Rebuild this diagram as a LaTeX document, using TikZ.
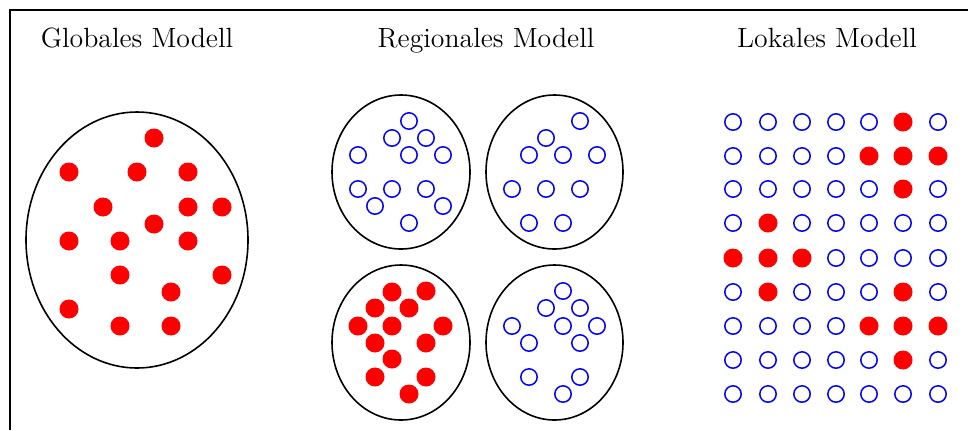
\documentclass[tikz,border=0pt]{standalone}
\usepackage{tikz}
\usepackage{xcolor}

\tikzset{
	redpt/.style={fill=red, draw=none},
	bluept/.style={draw=blue, line width=0.75pt, fill=none},
	huelle/.style={draw=black, line width=0.8pt},
	titel/.style={anchor=base, font=\fontsize{13.9}{16}\selectfont}
}

\begin{document}
\begin{tikzpicture}[x=0.5pt, y=-0.5pt]
					\useasboundingbox (0,0) rectangle (968,430);
					\draw[line width=0.7pt] (968,10) -- (10,10) -- (10,430);
					
					\node[titel] (tglobal) at (137,47) {Globales Modell};
					\node[titel] (tregional) at (486,47) {Regionales Modell};
					\node[titel] (tlokal) at (827,47) {Lokales Modell};
					
					% globales Modell
					\draw[huelle] (137,240) ellipse [x radius=55.5pt, y radius=64pt];
					\fill[redpt] (154,138) circle (4.75pt);
					\fill[redpt] (69,172) circle (4.75pt);
					\fill[redpt] (137,172) circle (4.75pt);
					\fill[redpt] (188,172) circle (4.75pt);
					\fill[redpt] (103,207) circle (4.75pt);
					\fill[redpt] (188,207) circle (4.75pt);
					\fill[redpt] (222,207) circle (4.75pt);
					\fill[redpt] (154,224) circle (4.75pt);
					\fill[redpt] (69,241) circle (4.75pt);
					\fill[redpt] (120,241) circle (4.75pt);
					\fill[redpt] (188,241) circle (4.75pt);
					\fill[redpt] (120,275) circle (4.75pt);
					\fill[redpt] (222,275) circle (4.75pt);
					\fill[redpt] (171,292) circle (4.75pt);
					\fill[redpt] (69,309) circle (4.75pt);
					\fill[redpt] (120,326) circle (4.75pt);
					\fill[redpt] (171,326) circle (4.75pt);
					
					% regionales Modell
					\draw[huelle] (401,172) ellipse [x radius=34.5pt, y radius=38.5pt];
					\draw[huelle] (554.5,172) ellipse [x radius=34.25pt, y radius=38.5pt];
					\draw[huelle] (401,342.5) ellipse [x radius=34.5pt, y radius=38.75pt];
					\draw[huelle] (554.5,342.5) ellipse [x radius=34.25pt, y radius=38.75pt];
					
					\draw[bluept] (409,121) circle (4.1pt) (392,138) circle (4.1pt) (426,138) circle (4.1pt);
					\draw[bluept] (358,155) circle (4.1pt) (409,155) circle (4.1pt) (443,155) circle (4.1pt);
					\draw[bluept] (358,189) circle (4.1pt) (392,189) circle (4.1pt) (426,189) circle (4.1pt);
					\draw[bluept] (375,206) circle (4.1pt) (443,206) circle (4.1pt) (409,223) circle (4.1pt);
					
					\draw[bluept] (580,121) circle (4.1pt) (546,138) circle (4.1pt);
					\draw[bluept] (529,155) circle (4.1pt) (563,155) circle (4.1pt) (597,155) circle (4.1pt);
					\draw[bluept] (512,189) circle (4.1pt) (546,189) circle (4.1pt) (580,189) circle (4.1pt);
					\draw[bluept] (529,223) circle (4.1pt) (563,223) circle (4.1pt);
					
					\fill[redpt] (392,292) circle (4.75pt);
					\fill[redpt] (426,291) circle (4.75pt);
					\fill[redpt] (375,308) circle (4.75pt);
					\fill[redpt] (409,308) circle (4.75pt);
					\fill[redpt] (358,326) circle (4.75pt);
					\fill[redpt] (392,326) circle (4.75pt);
					\fill[redpt] (443,326) circle (4.75pt);
					\fill[redpt] (375,343) circle (4.75pt);
					\fill[redpt] (426,343) circle (4.75pt);
					\fill[redpt] (392,359) circle (4.75pt);
					\fill[redpt] (375,377) circle (4.75pt);
					\fill[redpt] (426,377) circle (4.75pt);
					\fill[redpt] (409,394) circle (4.75pt);
					
					\draw[bluept] (563,291) circle (4.1pt) (546,308) circle (4.1pt) (580,308) circle (4.1pt);
					\draw[bluept] (512,326) circle (4.1pt) (563,326) circle (4.1pt) (597,326) circle (4.1pt);
					\draw[bluept] (529,343) circle (4.1pt) (580,343) circle (4.1pt);
					\draw[bluept] (529,377) circle (4.1pt) (580,377) circle (4.1pt) (563,394) circle (4.1pt);
					
					% lokales Modell
					\draw[bluept] (733,122) circle (4.1pt) (768,122) circle (4.1pt) (802,122) circle (4.1pt) (836,122) circle (4.1pt) (869,122) circle (4.1pt) (938,122) circle (4.1pt);
					\fill[redpt] (903,122) circle (4.75pt);
					\draw[bluept] (733,156) circle (4.1pt) (768,156) circle (4.1pt) (802,156) circle (4.1pt) (836,156) circle (4.1pt);
					\fill[redpt] (869,156) circle (4.75pt) (903,156) circle (4.75pt) (938,156) circle (4.75pt);
					\draw[bluept] (733,189) circle (4.1pt) (768,189) circle (4.1pt) (802,189) circle (4.1pt) (836,189) circle (4.1pt) (869,189) circle (4.1pt) (938,189) circle (4.1pt);
					\fill[redpt] (903,189) circle (4.75pt);
					\draw[bluept] (733,223) circle (4.1pt) (802,223) circle (4.1pt) (836,223) circle (4.1pt) (869,223) circle (4.1pt) (903,223) circle (4.1pt) (938,223) circle (4.1pt);
					\fill[redpt] (768,223) circle (4.75pt);
					\fill[redpt] (733,258) circle (4.75pt) (768,258) circle (4.75pt) (802,258) circle (4.75pt);
					\draw[bluept] (836,258) circle (4.1pt) (869,258) circle (4.1pt) (903,258) circle (4.1pt) (938,258) circle (4.1pt);
					\draw[bluept] (733,292) circle (4.1pt) (802,292) circle (4.1pt) (836,292) circle (4.1pt) (869,292) circle (4.1pt) (938,292) circle (4.1pt);
					\fill[redpt] (768,292) circle (4.75pt) (903,292) circle (4.75pt);
					\draw[bluept] (733,326) circle (4.1pt) (768,326) circle (4.1pt) (802,326) circle (4.1pt) (836,326) circle (4.1pt);
					\fill[redpt] (869,326) circle (4.75pt) (903,326) circle (4.75pt) (938,326) circle (4.75pt);
					\draw[bluept] (733,360) circle (4.1pt) (768,360) circle (4.1pt) (802,360) circle (4.1pt) (836,360) circle (4.1pt) (869,360) circle (4.1pt) (938,360) circle (4.1pt);
					\fill[redpt] (903,360) circle (4.75pt);
					\draw[bluept] (733,394) circle (4.1pt) (768,394) circle (4.1pt) (802,394) circle (4.1pt) (836,394) circle (4.1pt) (869,394) circle (4.1pt) (903,394) circle (4.1pt) (938,394) circle (4.1pt);
					
				\end{tikzpicture}
\end{document}
